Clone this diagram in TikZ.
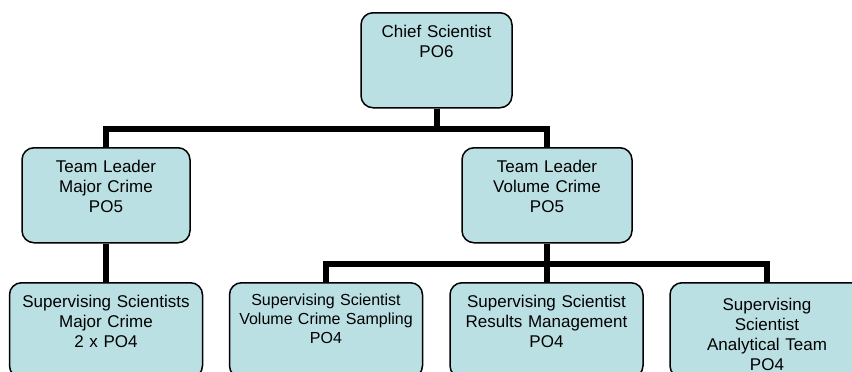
\documentclass[tikz,border=0pt]{standalone}
\usepackage{fontspec}
\setmainfont{Liberation Sans}
\usetikzlibrary{positioning}
\definecolor{couleurfond}{HTML}{BBE0E3}
\definecolor{couleurtext}{HTML}{000000}
\newcommand{\multiliens}[2]{\foreach \noeud in {#2} {\draw[lien] (#1.south) -- ++(0,20) -| (\noeud.north);}}
\newcommand{\lienvtbs}[2]{\draw[lien] (#1.south) -- (#2.north);}
\tikzset{
		poste/.style={draw, rounded corners=12pt, line width=1.5pt, fill=couleurfond, text=couleurtext, align=center, inner xsep=0pt, inner ysep=0pt, text width=#1, text height=25pt, text depth=70pt},
		lien/.style={line width=6pt, line join=miter}
	}
\begin{document}
\begin{tikzpicture}[x=1pt, y=-1pt]
		\fontsize{17}{20} \selectfont
		\useasboundingbox (0,0) rectangle (852,372);
		\clip (0,0) rectangle (852,372);
		% 1er niveau
		\node[poste=151pt, anchor=north] (chefscie) at (436.5,12) {Chief Scientist\\PO6};
		% 2me niveau
		\node[poste=168pt, anchor=north] (tlmajeur) at (106,147) {Team Leader\\Major Crime\\PO5};
		\node[poste=170pt, anchor=north] (tlvolume) at (547,147) {Team Leader\\Volume Crime\\PO5};
		% 3me niveau
		\node[poste=193pt, anchor=north] (ssmajeur) at (106,282) {Supervising Scientists\\Major Crime\\2 x PO4};
		\node[poste=193pt, right=25.5pt of ssmajeur, font=\fontsize{16}{19}\selectfont, text height=23pt, text depth=72pt] (ssechant) {Supervising Scientist\\Volume Crime Sampling\\PO4};
		\node[poste=193pt, right=26pt of ssechant] (ssresult) {Supervising Scientist\\Results Management\\PO4};
		\node[poste=194pt, right=25.5pt of ssresult, text height=28pt, text depth=67pt] (ssanalyt) {Supervising\\Scientist\\Analytical Team\\PO4};
		
		% Liens
		\multiliens{chefscie}{tlmajeur,tlvolume}
		\lienvtbs{tlmajeur}{ssmajeur}
		\multiliens{tlvolume}{ssechant,ssresult,ssanalyt}
	\end{tikzpicture}
\end{document}
